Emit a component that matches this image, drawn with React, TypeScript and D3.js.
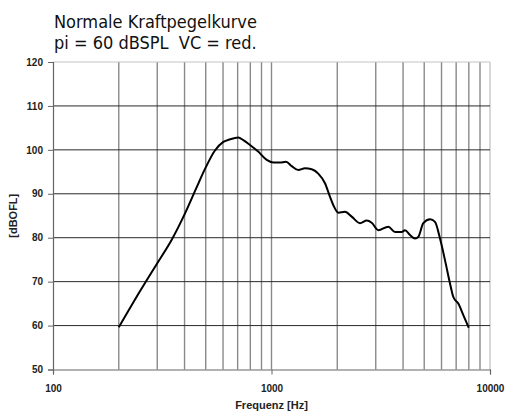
import React, { useEffect, useRef } from 'react';
import * as d3 from 'd3';

// Frequenzgang
const freqs = [200, 250, 300, 350, 400, 450, 500, 550, 602, 646, 705, 743, 797, 869, 951, 1019, 1094, 1165, 1237, 1327, 1423, 1528, 1637, 1757, 1853, 1919, 2022, 2170, 2328, 2541, 2728, 2874, 3083, 3424, 3676, 3943, 4083, 4305, 4539, 4698, 4952, 5314, 5601, 5905, 6223, 6561, 6796, 7162, 7548, 8000];
const levels = [59.6, 67.8, 74.2, 79.6, 85.3, 91.0, 96.0, 99.8, 101.8, 102.4, 102.8, 102.2, 101.1, 99.6, 97.7, 97.1, 97.1, 97.3, 96.3, 95.4, 95.8, 95.6, 94.6, 92.4, 89.3, 87.4, 85.7, 85.9, 84.8, 83.3, 83.9, 83.4, 81.7, 82.5, 81.3, 81.3, 81.7, 80.6, 79.8, 80.2, 83.3, 84.2, 83.6, 79.8, 74.9, 69.6, 66.5, 65.0, 62.4, 59.5];

const yTicks = [50, 60, 70, 80, 90, 100, 110, 120];
const xTicks = [100, 1000, 10000];
const xGrid = [200, 300, 400, 500, 600, 700, 800, 900, 1000, 2000, 3000, 4000, 5000, 6000, 7000, 8000, 9000];
const titleLines = ['Normale Kraftpegelkurve', 'pi = 60 dBSPL  VC = red.'];

function App() {
    const svgRef = useRef<SVGSVGElement>(null);

    useEffect(() => {
        const svg = d3.select(svgRef.current);
        svg.selectAll('*').remove();

        const left = 53, right = 490, top = 62, bottom = 369.5;

        const x = d3.scaleLog().domain([100, 10000]).range([left, right]);
        const y = d3.scaleLinear().domain([50, 120]).range([bottom, top]);

        const g = svg.append('g');

        // vertikale Gitterlinien
        g.selectAll('line.vg')
            .data(xGrid)
            .enter()
            .append('line')
            .attr('x1', d => x(d)).attr('x2', d => x(d))
            .attr('y1', top).attr('y2', bottom)
            .attr('stroke', '#8a8a8a')
            .attr('stroke-width', 1.4);

        // Rahmen oben / rechts
        g.append('line')
            .attr('x1', left).attr('x2', right).attr('y1', top).attr('y2', top)
            .attr('stroke', '#c4c4c4');
        g.append('line')
            .attr('x1', right).attr('x2', right).attr('y1', top).attr('y2', bottom)
            .attr('stroke', '#b0b0b0');

        // horizontale Gitterlinien
        g.selectAll('line.hg')
            .data(yTicks.filter(d => d > 50 && d < 120))
            .enter()
            .append('line')
            .attr('x1', left).attr('x2', right)
            .attr('y1', d => y(d)).attr('y2', d => y(d))
            .attr('stroke', '#2a2a2a')
            .attr('stroke-width', 1);

        // Achsen
        const yAxis = g.append('g')
            .attr('transform', `translate(${left},0)`)
            .call(d3.axisLeft(y).tickValues(yTicks).tickSize(5).tickPadding(5).tickFormat(d3.format('d')));
        const xAxis = g.append('g')
            .attr('transform', `translate(0,${bottom})`)
            .call(d3.axisBottom(x).tickValues(xTicks).tickSize(5).tickPadding(10).tickFormat(d3.format('d')));

        [yAxis, xAxis].forEach(a => {
            a.select('.domain').attr('stroke', '#666').attr('stroke-width', 1.2);
            a.selectAll('.tick line').attr('stroke', '#666');
            a.selectAll('text')
                .attr('font-family', 'Liberation Sans, Arial, sans-serif')
                .attr('font-size', 10)
                .attr('font-weight', 'bold')
                .attr('fill', '#222');
        });

        // Kurve
        const line = d3.line<number>()
            .x((d, i) => x(freqs[i]))
            .y(d => y(d))
            .curve(d3.curveMonotoneX);

        g.append('path')
            .datum(levels)
            .attr('d', line)
            .attr('fill', 'none')
            .attr('stroke', '#000')
            .attr('stroke-width', 2)
            .attr('stroke-linejoin', 'round');

        // Achsentitel
        g.append('text')
            .attr('x', (left + right) / 2)
            .attr('y', 409)
            .attr('text-anchor', 'middle')
            .attr('font-family', 'Liberation Sans, Arial, sans-serif')
            .attr('font-size', 11)
            .attr('font-weight', 'bold')
            .attr('fill', '#222')
            .text('Frequenz [Hz]');

        g.append('text')
            .attr('transform', `translate(17,${(top + bottom) / 2}) rotate(-90)`)
            .attr('text-anchor', 'middle')
            .attr('font-family', 'Liberation Sans, Arial, sans-serif')
            .attr('font-size', 11)
            .attr('font-weight', 'bold')
            .attr('fill', '#222')
            .text('[dBOFL]');

        // Titel
        g.selectAll('text.title')
            .data(titleLines)
            .enter()
            .append('text')
            .attr('x', 54)
            .attr('y', (d, i) => 28 + i * 21)
            .attr('font-family', 'Liberation Sans Narrow, DejaVu Sans Condensed, Roboto, sans-serif')
            .attr('font-size', 18)
            .attr('fill', '#111')
            .style('white-space', 'pre')
            .text(d => d);
    }, []);

    return (
        <svg ref={svgRef} width={505} height={412} style={{ position: 'absolute', left: 0, top: 0 }}></svg>
    );
}

export default App;
